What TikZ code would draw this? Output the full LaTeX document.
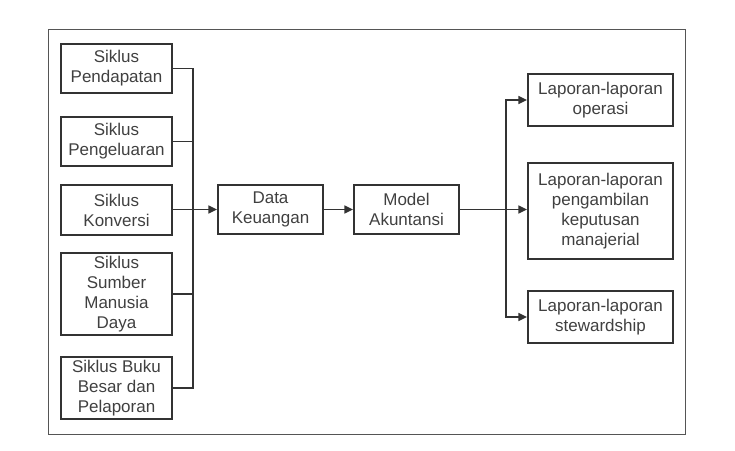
\documentclass[tikz,border=0pt]{standalone}
\usepackage{fontspec}
\setmainfont{Liberation Sans}
\usetikzlibrary{arrows.meta, positioning}
\definecolor{cline}{HTML}{333333}
\definecolor{ctext}{HTML}{404040}
\definecolor{cframe}{HTML}{555555}
\tikzset{
  every picture/.style={font=\fontsize{14.5}{17.1}\selectfont},
  box/.style={draw=cline, line width=1.7pt, align=center, text=ctext, inner sep=2pt},
  link/.style={draw=cline, line width=1.3pt},
  arrow/.style={link, -{Triangle[length=0.26cm, width=0.24cm]}},
}
\begin{document}
\begin{tikzpicture}[x=0.03cm, y=-0.03cm]
  \useasboundingbox (0,0) rectangle (735,450);
  \draw[cframe, line width=0.8pt] (48,29) rectangle (685,434);
  % siklus (kiri)
  \node[box, minimum width=3.33cm, minimum height=1.47cm] (sk1) at (116.5, 68.5) {Siklus\\Pendapatan};
  \node[box, minimum width=3.33cm, minimum height=1.47cm] (sk2) at (116.5, 141.5) {Siklus\\Pengeluaran};
  \node[box, minimum width=3.33cm, minimum height=1.5cm] (sk3) at (116.5, 210) {Siklus\\Konversi};
  \node[box, minimum width=3.33cm, minimum height=2.46cm] (sk4) at (116.5, 294) {Siklus\\Sumber\\Manusia\\Daya};
  \node[box, minimum width=3.33cm, minimum height=1.86cm] (sk5) at (116.5, 388) {Siklus Buku\\Besar dan\\Pelaporan};
  % tengah
  \node[box, minimum width=3.15cm, minimum height=1.47cm] (data) at (270.5, 209.5) {Data\\Keuangan};
  \node[box, minimum width=3.15cm, minimum height=1.47cm] (model) at (406.5, 209.5) {Model\\Akuntansi};
  % laporan (kanan)
  \node[box, minimum width=4.35cm, minimum height=1.56cm] (lp1) at (600.5, 100) {Laporan-laporan\\operasi};
  \node[box, minimum width=4.35cm, minimum height=2.88cm] (lp2) at (600.5, 211) {Laporan-laporan\\pengambilan\\keputusan\\manajerial};
  \node[box, minimum width=4.35cm, minimum height=1.56cm] (lp3) at (600.5, 317) {Laporan-laporan\\stewardship};
  \coordinate (busL) at (193, 209.5);
  \coordinate (busR) at (506, 209.5);
  \foreach \s in {sk1, sk2, sk4, sk5} \draw[link] (\s.east) -| (busL);
  \draw[arrow] (sk3.east |- busL) -- (data.west);
  \draw[arrow] (data) -- (model);
  \draw[link] (model.east) -- (busR);
  \draw[arrow] (busR) |- (lp1.west);
  \draw[arrow] (busR) -- (lp2.west |- busR);
  \draw[arrow] (busR) |- (lp3.west);
\end{tikzpicture}
\end{document}
